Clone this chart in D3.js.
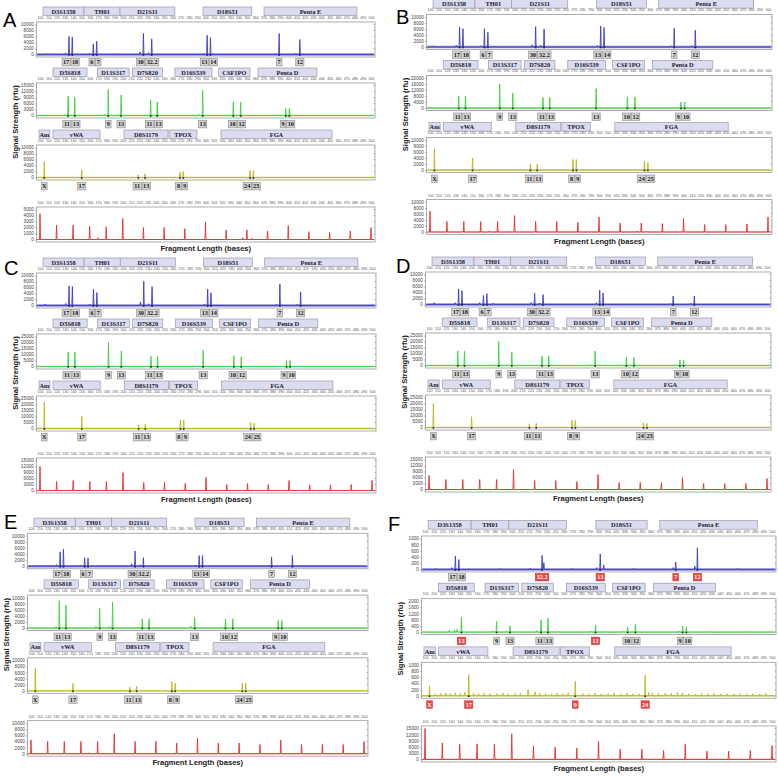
<!DOCTYPE html>
<html>
<head>
<meta charset="utf-8">
<script src="https://cdn.jsdelivr.net/npm/d3@7"></script>
<style>
  body { margin: 0; background: #fff; }
  svg { display: block; }
</style>
</head>
<body>
<svg id="chart" width="778" height="780"></svg>
<script>
// ---- loci (bp ranges of the marker boxes) ----
const loci1 = ["D3S1358", "TH01", "D21S11", "D18S51", "Penta E"];
const loci1Start = [103.6, 153.2, 196.7, 297, 370.7];
const loci1End = [153.2, 196.7, 263, 356, 483];
const loci2 = ["D5S818", "D13S317", "D7S820", "D16S539", "CSF1PO", "Penta D"];
const loci2Start = [115.7, 169.3, 211.6, 263, 316, 363.4];
const loci2End = [156.8, 207.7, 247.9, 307.8, 353.8, 434.7];
const loci3 = ["Am", "vWA", "D8S1179", "TPOX", "FGA"];
const loci3Start = [98.8, 115.7, 201.5, 256, 318.7];
const loci3End = [112, 172.5, 254.7, 289.7, 452.9];

// ---- alleles (name + size in bases) ----
const blueAlleles = ["17", "18", "6", "7", "30", "32.2", "13", "14", "7", "12"];
const blueBp = [135, 139, 164.4, 168.5, 225, 235, 302, 306, 389, 414];
const greenAlleles = ["11", "13", "9", "13", "11", "13", "13", "10", "12", "9", "10"];
const greenBp = [134, 142, 182.5, 198, 233.7, 241.7, 296.6, 333.6, 342.5, 397, 401.3];
const yellowAlleles = ["X", "17", "11", "13", "8", "9", "24", "25"];
const yellowBp = [105.2, 150.4, 218.8, 226.9, 269.2, 273.2, 353.8, 357.9];
const ladderBp = [100, 120, 140, 160, 180, 200, 225, 250, 275, 300, 325, 350, 375, 400, 425, 450, 475, 500];

// ---- peak heights (rfu) per panel ----
const blueA = [6000, 5800, 3500, 4400, 7000, 5200, 6400, 5600, 7000, 5000];
const blueB = [6600, 6100, 6100, 4900, 6800, 6000, 7000, 6500, 6200, 5600];
const blueC = [6500, 6300, 5400, 4300, 8000, 6300, 5500, 4200, 7200, 4500];
const blueD = [5200, 4600, 3000, 3600, 3800, 3300, 4800, 3800, 2800, 2800];
const blueE = [4700, 5600, 2800, 2700, 5000, 2800, 3500, 3500, 3000, 3500];
const blueF = [430, 320, 0, 0, 0, 450, 500, 150, 240, 700];

const greenA = [9600, 9100, 13000, 10200, 7800, 6700, 12600, 6700, 6700, 3500, 3500];
const greenB = [8000, 8000, 16000, 10000, 7000, 7000, 13000, 7500, 7500, 4000, 4000];
const greenC = [12000, 12000, 20000, 13000, 8500, 8500, 13500, 9000, 8000, 5000, 5000];
const greenD = [12000, 12000, 20000, 11000, 8000, 8000, 12000, 7000, 7000, 4500, 4500];
const greenE = [9000, 7500, 6500, 8500, 3000, 3000, 3500, 3000, 3000, 2500, 2500];
const greenF = [150, 970, 700, 400, 800, 900, 450, 300, 500, 400, 300];

const yellowA = [5300, 2600, 900, 1200, 1800, 2000, 2300, 2300];
const yellowB = [7000, 4000, 2000, 2000, 3500, 3500, 3000, 2500];
const yellowC = [22000, 10000, 3000, 3500, 7000, 7000, 5000, 4500];
const yellowD = [20000, 9000, 3000, 3500, 6000, 6000, 4000, 3500];
const yellowE = [7500, 2500, 1200, 1500, 3000, 2500, 2500, 2500];
const yellowF = [320, 680, 200, 130, 0, 470, 670, 110];

const redA = [4300, 2400, 2400, 2200, 2100, 3500, 2000, 2000, 1800, 2900, 1600, 1600, 1400, 2300, 1300, 1200, 1400, 2000];
const redB = [7000, 3500, 3500, 3500, 3500, 5500, 3500, 3500, 3200, 5000, 3000, 3000, 2800, 4500, 2500, 2500, 2700, 5000];
const redC = [12000, 4500, 5000, 4500, 4500, 9000, 4000, 4000, 3500, 6500, 3000, 3500, 3000, 5000, 2800, 2800, 3000, 5000];
const redD = [7000, 5000, 5000, 5000, 5000, 10000, 4500, 4500, 4000, 7500, 3500, 3500, 3500, 6000, 3000, 3000, 3000, 5500];
const redE = [4500, 4000, 4000, 4000, 4000, 6500, 4000, 4000, 3500, 5000, 3500, 3500, 3000, 4500, 3000, 3000, 3000, 4000];
const redF = [15000, 8000, 7300, 7500, 7300, 12400, 6500, 6000, 5500, 8900, 5000, 5000, 4300, 7300, 4000, 4000, 4300, 6700];

// label state: 0 none, 1 called (grey), 2 flagged (red)
const blueLabelF = [1, 1, 0, 0, 0, 2, 2, 0, 2, 2];
const greenLabelF = [0, 2, 1, 1, 1, 1, 2, 1, 1, 1, 1];
const yellowLabelF = [2, 2, 0, 0, 0, 2, 2, 0];

// small stutter / noise peaks [bp, rfu]
const minorBlueA = [[108, 300], [118, 200], [131, 500], [160, 400], [190, 300], [221, 900], [231, 600], [298, 300], [385, 300], [409, 400]];
const minorBlueB = [[104, 400], [131, 600], [160, 400], [176, 300], [221, 700], [231, 600], [298, 500], [385, 400], [410, 400]];
const minorBlueC = [[106, 500], [131, 700], [160, 500], [221, 1200], [231, 600], [298, 500], [385, 400], [410, 400]];
const minorBlueD = [[106, 600], [131, 600], [160, 600], [176, 400], [221, 700], [231, 500], [298, 600], [385, 300], [410, 400]];
const minorBlueE = [[108, 300], [118, 300], [131, 500], [160, 300], [190, 300], [221, 800], [231, 500], [298, 400], [385, 300], [410, 300]];
const minorBlueF = [[112, 40], [131, 60], [150, 30], [186, 30], [221, 40], [237, 220], [270, 30], [298, 60], [340, 30], [386, 60], [411, 110], [460, 30]];
const minorGreen = [[130, 500], [178, 600], [194, 500], [229, 400], [292, 600], [329, 400], [393, 300]];
const minorGreenF = [[128, 120], [137, 180], [178, 80], [194, 60], [229, 90], [254, 40], [292, 60], [310, 40], [329, 50], [393, 60], [430, 40], [470, 40]];
const minorYellowF = [[112, 60], [118, 80], [124, 90], [129, 70], [135, 100], [141, 80], [146, 110], [156, 90], [162, 60], [168, 80],
  [175, 60], [183, 70], [190, 90], [196, 60], [204, 70], [210, 80], [232, 90], [239, 70], [246, 60], [252, 80], [259, 60], [265, 90],
  [282, 70], [289, 60], [296, 80], [303, 60], [311, 70], [318, 90], [326, 60], [333, 80], [340, 70], [347, 60], [362, 80], [369, 70],
  [377, 90], [384, 80], [391, 110], [397, 90], [404, 70], [412, 60], [419, 70], [426, 60], [433, 80], [441, 60], [448, 70], [456, 60],
  [463, 70], [471, 60], [478, 70], [486, 60], [493, 70]];
const minorRed = [[139, 200], [170, 300], [345, 300], [356, 200]];

// y axis maxima (5 intervals each)
const maxBlue = [10000, 10000, 10000, 10000, 10000, 1000];
const maxGreen = [15000, 20000, 25000, 25000, 10000, 2000];
const maxYellow = [10000, 10000, 25000, 25000, 10000, 1000];
const maxRed = [5000, 10000, 15000, 15000, 10000, 15000];

const panelNames = ["A", "B", "C", "D", "E", "F"];

// ---- layout ----
const panelX100 = [40, 430, 40, 429, 31, 425];
const panelX500 = [371, 768, 372, 767, 364, 772];
const panelDy = [0, -7.5, 251, 250, 511, 513.4];
const panelSy = [1, 1, 1, 1, 1.013, 1.027];
const letterPos = [[3, 27], [396, 24], [4, 275], [396, 273], [4, 529], [388, 531]];

const rowsY = [
  { locus: 7, tick: 18.8, top: 22, bottom: 57, allele: 58.5 },
  { locus: 68, tick: 79.8, top: 83, bottom: 118, allele: 120.5 },
  { locus: 130, tick: 141.8, top: 145, bottom: 180, allele: 182.5 },
  { locus: null, tick: 204, top: 207, bottom: 242, allele: null }
];

const serif = "'Liberation Serif', 'Times New Roman', serif";
const sans = "'Liberation Sans', Arial, sans-serif";

const channels = [
  { color: "#3b3bc8", base: "#8c8cd8", baseW: 2.4, bp: blueBp, names: blueAlleles,
    heights: [blueA, blueB, blueC, blueD, blueE, blueF], max: maxBlue,
    loci: loci1, ls: loci1Start, le: loci1End, labels: [null, null, null, null, null, blueLabelF],
    minor: [minorBlueA, minorBlueB, minorBlueC, minorBlueD, minorBlueE, minorBlueF] },
  { color: "#3fcf3f", base: "#8ee08e", baseW: 1.4, bp: greenBp, names: greenAlleles,
    heights: [greenA, greenB, greenC, greenD, greenE, greenF], max: maxGreen,
    loci: loci2, ls: loci2Start, le: loci2End, labels: [null, null, null, null, null, greenLabelF],
    minor: [minorGreen, minorGreen, minorGreen, minorGreen, minorGreen, minorGreenF] },
  { color: "#b9b91c", base: "#cfcf6a", baseW: 1.4, bp: yellowBp, names: yellowAlleles,
    heights: [yellowA, yellowB, yellowC, yellowD, yellowE, yellowF], max: maxYellow,
    loci: loci3, ls: loci3Start, le: loci3End, labels: [null, null, null, null, null, yellowLabelF],
    minor: [[], [], [], [], [], minorYellowF] },
  { color: "#e2302b", base: "#ef8a86", baseW: 1.2, bp: ladderBp, names: null,
    heights: [redA, redB, redC, redD, redE, redF], max: maxRed,
    loci: null, labels: null,
    minor: [minorRed, minorRed, minorRed, minorRed, minorRed, minorRed] }
];

const svg = d3.select("#chart");

function tracePoints(peaks) {
  const pts = [[97, 0]];
  peaks.slice().sort((a, b) => a[0] - b[0]).forEach(([bp, h]) => {
    if (h <= 0) return;
    pts.push([bp - 0.6, 0], [bp, h], [bp + 0.6, 0]);
  });
  pts.push([503, 0]);
  return pts;
}

// spread overlapping label boxes side by side around their peaks
function placeLabels(items, gap) {
  items.sort((a, b) => a.x - b.x);
  const clusters = [];
  const lay = c => {
    const W = d3.sum(c.items, d => d.w) + gap * (c.items.length - 1);
    const cx = d3.mean(c.items, d => d.x);
    let l = cx - W / 2;
    c.left = l;
    c.items.forEach(d => { d.left = l; l += d.w + gap; });
    c.right = l - gap;
  };
  items.forEach(it => {
    clusters.push({ items: [it] });
    lay(clusters[clusters.length - 1]);
    while (clusters.length > 1) {
      const c = clusters[clusters.length - 1], p = clusters[clusters.length - 2];
      if (p.right + gap > c.left) {
        p.items = p.items.concat(c.items);
        clusters.pop();
        lay(p);
      } else break;
    }
  });
  return items;
}

function drawPanel(p) {
  const g = svg.append("g");
  const Y = v => panelDy[p] + panelSy[p] * v;
  const x = d3.scaleLinear().domain([100, 500]).range([panelX100[p], panelX500[p]]);
  const left = x(100) - 3.5, right = x(500) + 4;

  g.append("text")
    .attr("x", letterPos[p][0]).attr("y", letterPos[p][1])
    .attr("font-family", sans).attr("font-size", 20)
    .text(panelNames[p]);

  channels.forEach((ch, r) => {
    const row = rowsY[r];
    const top = Y(row.top), bottom = Y(row.bottom);
    const max = ch.max[p];
    const y = d3.scaleLinear().domain([0, max]).range([bottom - 2.5, top + 2.5]);

    // locus boxes
    if (ch.loci) {
      ch.loci.forEach((name, i) => {
        const x0 = x(ch.ls[i]), x1 = x(ch.le[i]);
        g.append("rect")
          .attr("x", x0).attr("y", Y(row.locus)).attr("width", x1 - x0).attr("height", 8.6)
          .attr("fill", "#dcdcf1").attr("stroke", "#9a9aa8").attr("stroke-width", 0.7);
        g.append("text")
          .attr("x", (x0 + x1) / 2).attr("y", Y(row.locus) + 6.6)
          .attr("text-anchor", "middle").attr("font-family", serif)
          .attr("font-weight", "bold").attr("font-size", 6.4).attr("fill", "#1a1a2a")
          .text(name);
      });
    }

    // bp ticks on top
    const ax = g.append("g")
      .attr("transform", `translate(0,${Y(row.tick)})`)
      .call(d3.axisTop(x).tickValues(d3.range(100, 501, 10)).tickSize(0).tickPadding(0));
    ax.select(".domain").remove();
    ax.selectAll("text").attr("font-size", 3.6).attr("font-family", sans).attr("fill", "#555");

    // frame
    g.append("rect")
      .attr("x", left).attr("y", top).attr("width", right - left).attr("height", bottom - top)
      .attr("fill", "#fff").attr("stroke", "#9a9a9a").attr("stroke-width", 0.8);

    // y axis
    const yt = d3.range(0, max + 1, max / 5);
    const ay = g.append("g")
      .attr("transform", `translate(${left},0)`)
      .call(d3.axisLeft(y).tickValues(yt).tickSize(1.5).tickPadding(1.2).tickFormat(d3.format("d")));
    ay.select(".domain").remove();
    ay.selectAll("line").attr("stroke", "#777").attr("stroke-width", 0.5);
    ay.selectAll("text").attr("font-size", 4.6).attr("font-family", sans).attr("fill", "#444");
    g.selectAll(null).data(yt).enter().append("line")
      .attr("x1", right - 1.5).attr("x2", right)
      .attr("y1", d => y(d)).attr("y2", d => y(d))
      .attr("stroke", "#777").attr("stroke-width", 0.5);

    // baseline band
    g.append("line")
      .attr("x1", left + 0.5).attr("x2", right - 0.5)
      .attr("y1", y(0)).attr("y2", y(0))
      .attr("stroke", ch.base).attr("stroke-width", ch.baseW);

    // trace
    const hs = ch.heights[p];
    const peaks = ch.bp.map((bp, i) => [bp, Math.min(hs[i], max * 1.02)])
      .concat(ch.minor[p].map(d => [d[0], d[1]]));
    const line = d3.line().x(d => x(d[0])).y(d => Math.max(y(d[1]), top + 0.5));
    g.append("path")
      .attr("d", line(tracePoints(peaks)))
      .attr("fill", "none").attr("stroke", ch.color).attr("stroke-width", 0.9)
      .attr("stroke-linejoin", "round");

    // allele call boxes
    if (ch.names) {
      const states = ch.labels[p] || ch.names.map(() => 1);
      const items = [];
      ch.names.forEach((nm, i) => {
        if (!states[i]) return;
        items.push({ x: x(ch.bp[i]), w: 3 + 2.6 * nm.length, name: nm, red: states[i] === 2 });
      });
      placeLabels(items, 0.8).forEach(d => {
        g.append("rect")
          .attr("x", d.x - 0.8).attr("y", y(0) - 0.3).attr("width", 1.6).attr("height", 1.6)
          .attr("fill", "#222");
        g.append("rect")
          .attr("x", d.left).attr("y", Y(row.allele)).attr("width", d.w).attr("height", 7.4)
          .attr("fill", d.red ? "#ec4646" : "#d4d4d4")
          .attr("stroke", d.red ? "#d23030" : "#8a8a8a").attr("stroke-width", 0.6);
        g.append("text")
          .attr("x", d.left + d.w / 2).attr("y", Y(row.allele) + 5.9)
          .attr("text-anchor", "middle").attr("font-family", serif).attr("font-weight", "bold")
          .attr("font-size", 6.2).attr("fill", d.red ? "#fff" : "#111")
          .text(d.name);
      });
    }
  });

  // axis titles
  const cy = Y(122);
  g.append("text")
    .attr("transform", `translate(${panelX100[p] - 22},${cy}) rotate(-90)`)
    .attr("text-anchor", "middle").attr("font-family", sans).attr("font-weight", "bold")
    .attr("font-size", 7.6).attr("fill", "#222")
    .text("Signal Strength (rfu)");
  g.append("text")
    .attr("x", (left + right) / 2).attr("y", Y(251))
    .attr("text-anchor", "middle").attr("font-family", sans).attr("font-weight", "bold")
    .attr("font-size", 7.6).attr("fill", "#222")
    .text("Fragment Length (bases)");
}

panelNames.forEach((_, p) => drawPanel(p));
</script>
</body>
</html>
